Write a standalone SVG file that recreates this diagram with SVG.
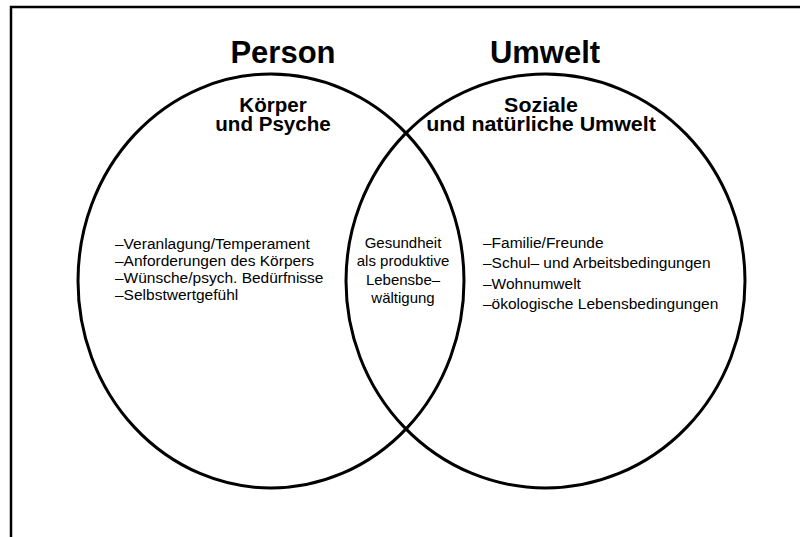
<svg xmlns="http://www.w3.org/2000/svg" width="800" height="537" viewBox="0 0 800 537">
  <style>
    .frame { fill: none; stroke: #000; stroke-width: 2.5; }
    .ring { fill: none; stroke: #000; stroke-width: 3; }
    .title { font-family: "Liberation Sans", Arial, sans-serif; font-weight: bold; font-size: 31px; fill: #000; text-anchor: middle; }
    .head { font-family: "Liberation Sans", Arial, sans-serif; font-weight: bold; font-size: 21px; fill: #000; text-anchor: middle; }
    .item { font-family: "Liberation Sans", Arial, sans-serif; font-size: 15.5px; fill: #000; }
    .mid { font-family: "Liberation Sans", Arial, sans-serif; font-size: 15px; fill: #000; text-anchor: middle; }
  </style>
  <rect width="800" height="537" fill="#fff"/>
  <!-- outer frame: top and left edges only -->
  <path class="frame" d="M11,537 V7 H800"/>

  <g id="person">
    <ellipse class="ring" cx="271" cy="281" rx="193" ry="207"/>
    <text class="title" x="283" y="63">Person</text>
    <g transform="translate(273,0) scale(0.98,1)">
      <text class="head" x="0" y="112">Körper</text>
      <text class="head" x="0" y="131">und Psyche</text>
    </g>
    <text class="item" x="115" y="249">–Veranlagung/Temperament</text>
    <text class="item" x="115" y="266">–Anforderungen des Körpers</text>
    <text class="item" x="115" y="283">–Wünsche/psych. Bedürfnisse</text>
    <text class="item" x="115" y="300">–Selbstwertgefühl</text>
  </g>

  <g id="umwelt">
    <ellipse class="ring" cx="545.5" cy="281" rx="199.5" ry="207"/>
    <text class="title" x="545" y="63">Umwelt</text>
    <g transform="translate(541,0) scale(1.02,1)">
      <text class="head" x="0" y="112">Soziale</text>
      <text class="head" x="0" y="131">und natürliche Umwelt</text>
    </g>
    <text class="item" x="483" y="248">–Familie/Freunde</text>
    <text class="item" x="483" y="268">–Schul– und Arbeitsbedingungen</text>
    <text class="item" x="483" y="289">–Wohnumwelt</text>
    <text class="item" x="483" y="309">–ökologische Lebensbedingungen</text>
  </g>

  <g id="gesundheit">
    <text class="mid" x="403" y="248">Gesundheit</text>
    <text class="mid" x="403" y="266">als produktive</text>
    <text class="mid" x="403" y="285">Lebensbe–</text>
    <text class="mid" x="403" y="303">wältigung</text>
  </g>
</svg>
